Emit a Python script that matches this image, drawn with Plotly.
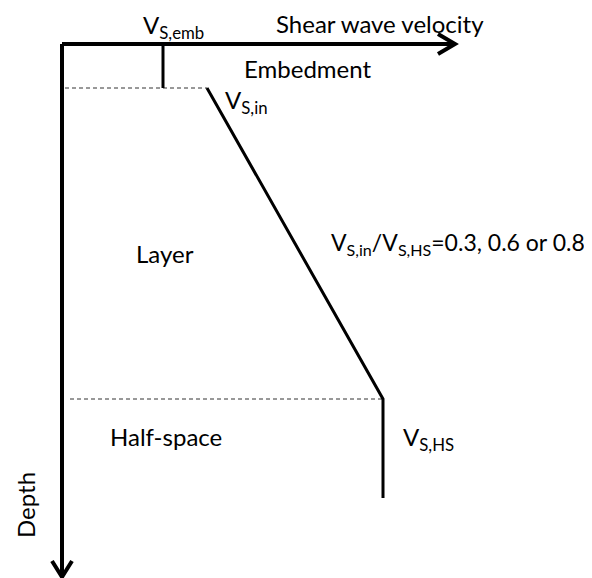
import plotly.graph_objects as go

# Schematic coordinates: velocity (x) and depth (y), origin at top-left of the axes
axis_velocity_end = 393
axis_depth_end = 533

emb_velocity = [101, 101]
emb_depth = [0, 44]

profile_velocity = [145, 321, 321]
profile_depth = [44, 355, 454]

dash1_velocity = [3, 145]
dash1_depth = [44, 44]
dash2_velocity = [8, 320]
dash2_depth = [355, 355]

FONT = "Lato"
FS = 24

fig = go.Figure()

def line(x, y, w, dash="solid", color="black"):
    fig.add_trace(go.Scatter(x=x, y=y, mode="lines",
                             line=dict(color=color, width=w, dash=dash),
                             hoverinfo="skip", showlegend=False))

# dashed boundaries
line(dash1_velocity, dash1_depth, 1, dash="4px,3px", color="#333333")
line(dash2_velocity, dash2_depth, 1, dash="4px,3px", color="#333333")

# axes with open chevron arrowheads
line([0, axis_velocity_end], [0, 0], 4)
line([axis_velocity_end - 17, axis_velocity_end, axis_velocity_end - 17], [-10, 0, 10], 4)
line([0, 0], [0, axis_depth_end], 4)
line([-10, 0, 10], [axis_depth_end - 16, axis_depth_end, axis_depth_end - 16], 4)

# embedment velocity and profile
line(emb_velocity, emb_depth, 3)
line(profile_velocity, profile_depth, 3)

def text(x, y, s, anchor="left", angle=0, size=FS):
    fig.add_annotation(x=x, y=y, text=s, showarrow=False, xanchor=anchor,
                       yanchor="middle", textangle=angle,
                       font=dict(family=FONT, size=size, color="black"))

text(79, -18, "V<sub>S,emb</sub>")
text(212, -21, "Shear wave velocity")
text(180, 24, "Embedment")
text(161, 57, "V<sub>S,in</sub>")
text(525, 199, "V<sub>S,in</sub>/V<sub>S,HS</sub>=0.3, 0.6 or 0.8", anchor="right", size=23)
text(72, 209, "Layer")
text(46, 392, "Half-space")
text(339, 394, "V<sub>S,HS</sub>")
text(-37, 461, "Depth", anchor="center", angle=-90)

# page has an 8px body margin: plot is 584x570 starting at page (8,8)
fig.update_xaxes(range=[-54, 530], visible=False)
fig.update_yaxes(range=[534, -36], visible=False)
fig.update_layout(width=584, height=570, margin=dict(l=0, r=0, t=0, b=0),
                  plot_bgcolor="white", paper_bgcolor="white")

fig.write_html("out.html")
